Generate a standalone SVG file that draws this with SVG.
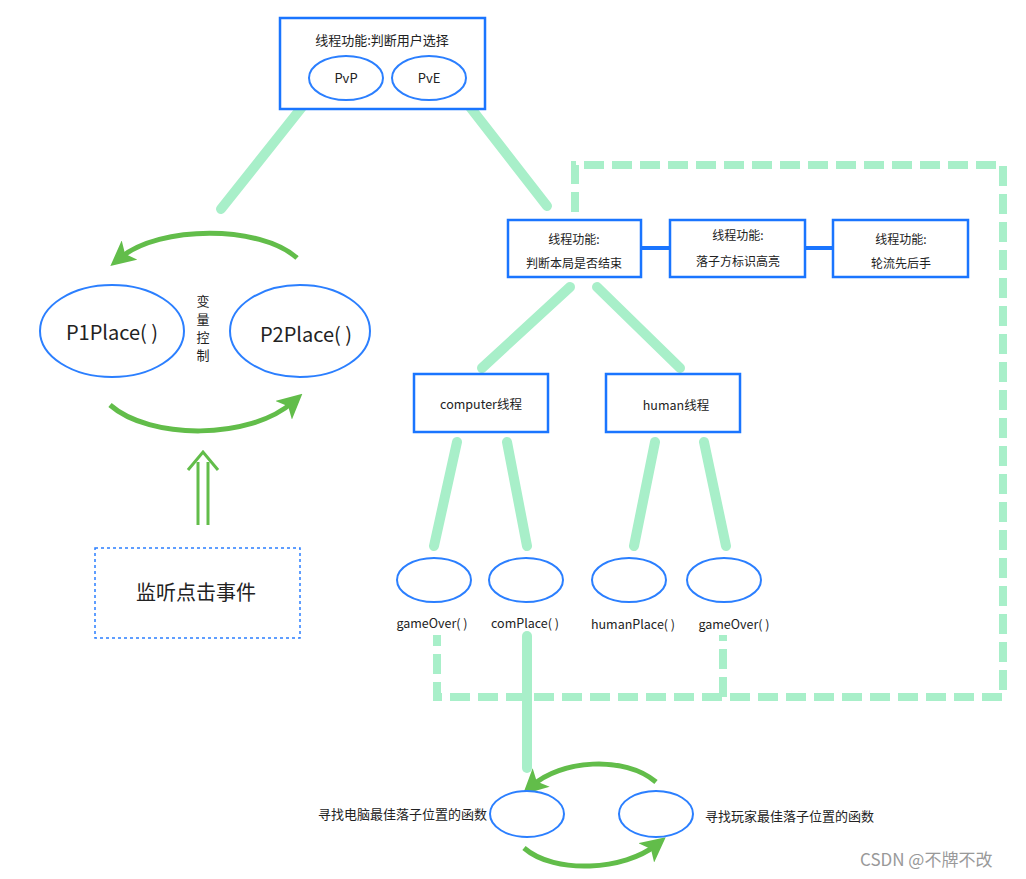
<svg xmlns="http://www.w3.org/2000/svg" width="1026" height="879" viewBox="0 0 1026 879">
<style>
text{font-family:"Noto Sans CJK SC","Noto Sans",sans-serif;fill:#222}
.box{fill:#fff;stroke:#1a75ff;stroke-width:2.5}
.ell{fill:#fff;stroke:#2b7fff;stroke-width:2}
.con{stroke:#a8efc9;stroke-width:10;stroke-linecap:round;fill:none}
.arc{stroke:#62bd4a;stroke-width:5;fill:none}
</style>
<defs>
<marker id="ah" markerWidth="5" markerHeight="5" refX="2.5" refY="2.5" orient="auto" markerUnits="strokeWidth"><path d="M0,0 L5,2.5 L0,5 L1.2,2.5 Z" fill="#62bd4a"/></marker>
</defs>
<rect width="1026" height="879" fill="#fff"/>
<g id="connectors">
<line class="con" x1="310" y1="97" x2="221" y2="209"/>
<line class="con" x1="463" y1="98" x2="547" y2="206"/>
<line class="con" x1="570" y1="287" x2="482" y2="368"/>
<line class="con" x1="597" y1="287" x2="680" y2="368"/>
<line class="con" x1="457" y1="442" x2="434" y2="546"/>
<line class="con" x1="507" y1="442" x2="527" y2="546"/>
<line class="con" x1="655" y1="442" x2="634" y2="546"/>
<line class="con" x1="704" y1="442" x2="726" y2="546"/>
<line class="con" x1="527" y1="636" x2="527" y2="768" stroke-linecap="butt"/>
<path d="M575,212 V165 H1003 V697 H437 V635 M723,697 V635" fill="none" stroke="#a8efc9" stroke-width="8" stroke-dasharray="20 8"/>
<line x1="641" y1="248" x2="670" y2="248" stroke="#1a75ff" stroke-width="4"/>
<line x1="805" y1="248" x2="833" y2="248" stroke="#1a75ff" stroke-width="4"/>
<path class="arc" d="M297,258 C260,225 160,225 120,258" marker-end="url(#ah)"/>
<path class="arc" d="M110,405 C150,440 250,440 293,402" marker-end="url(#ah)"/>
<path class="arc" d="M656,782 C625,755 560,760 532,786" marker-end="url(#ah)"/>
<path class="arc" d="M524,848 C555,875 625,870 656,845" marker-end="url(#ah)"/>
<g stroke="#62bd4a" stroke-width="3" fill="none"><line x1="198" y1="462" x2="198" y2="525"/><line x1="208" y1="462" x2="208" y2="525"/><path d="M188,470 L203,452 L218,470"/></g>
</g>
<g id="top"><rect class="box" x="280" y="18" width="205" height="91"/><text x="382" y="45" font-size="13" text-anchor="middle">线程功能:判断用户选择</text></g>
<g id="pvp"><ellipse class="ell" cx="346" cy="78" rx="37" ry="22"/><text x="346" y="83" font-size="13" text-anchor="middle">PvP</text></g>
<g id="pve"><ellipse class="ell" cx="429" cy="78" rx="37" ry="22"/><text x="429" y="83" font-size="13" text-anchor="middle">PvE</text></g>
<g id="p1"><ellipse class="ell" cx="112" cy="331" rx="72" ry="46"/><text x="112" y="340" font-size="20" text-anchor="middle">P1Place( )</text></g>
<g id="p2"><ellipse class="ell" cx="300" cy="331" rx="70" ry="46"/><text x="306" y="342" font-size="20" text-anchor="middle">P2Place( )</text></g>
<g id="ctl" font-size="13"><text x="203" y="306" text-anchor="middle">变</text><text x="203" y="324" text-anchor="middle">量</text><text x="203" y="342" text-anchor="middle">控</text><text x="203" y="360" text-anchor="middle">制</text></g>
<g id="listen"><rect x="95" y="548" width="205" height="90" fill="#fff" stroke="#2b7fff" stroke-width="1.5" stroke-dasharray="3 3"/><text x="196" y="600" font-size="20" text-anchor="middle">监听点击事件</text></g>
<g id="b1"><rect class="box" x="508" y="220" width="133" height="57"/><text x="574" y="244" font-size="12" text-anchor="middle">线程功能:</text><text x="574" y="268" font-size="12" text-anchor="middle">判断本局是否结束</text></g>
<g id="b2"><rect class="box" x="670" y="220" width="135" height="57"/><text x="738" y="240" font-size="12" text-anchor="middle">线程功能:</text><text x="738" y="266" font-size="12" text-anchor="middle">落子方标识高亮</text></g>
<g id="b3"><rect class="box" x="833" y="220" width="135" height="57"/><text x="901" y="244" font-size="12" text-anchor="middle">线程功能:</text><text x="901" y="268" font-size="12" text-anchor="middle">轮流先后手</text></g>
<g id="comp"><rect class="box" x="414" y="374" width="134" height="58"/><text x="481" y="409" font-size="12.5" text-anchor="middle">computer线程</text></g>
<g id="human"><rect class="box" x="606" y="374" width="134" height="58"/><text x="676" y="410" font-size="12.5" text-anchor="middle">human线程</text></g>
<g id="e1"><ellipse class="ell" cx="434" cy="580" rx="37" ry="22"/><text x="432" y="628" font-size="12.5" text-anchor="middle">gameOver( )</text></g>
<g id="e2"><ellipse class="ell" cx="526" cy="580" rx="37" ry="22"/><text x="525" y="628" font-size="12.5" text-anchor="middle">comPlace( )</text></g>
<g id="e3"><ellipse class="ell" cx="629" cy="580" rx="37" ry="22"/><text x="633" y="629" font-size="12.5" text-anchor="middle">humanPlace( )</text></g>
<g id="e4"><ellipse class="ell" cx="724" cy="580" rx="37" ry="22"/><text x="734" y="629" font-size="12.5" text-anchor="middle">gameOver( )</text></g>
<g id="f1"><ellipse class="ell" cx="527" cy="814" rx="37" ry="23"/><text x="487" y="819" font-size="13" text-anchor="end">寻找电脑最佳落子位置的函数</text></g>
<g id="f2"><ellipse class="ell" cx="656" cy="814" rx="37" ry="23"/><text x="705" y="821" font-size="13">寻找玩家最佳落子位置的函数</text></g>
<text x="860" y="866" font-size="17" style="fill:#999">CSDN @不牌不改</text>
</svg>
